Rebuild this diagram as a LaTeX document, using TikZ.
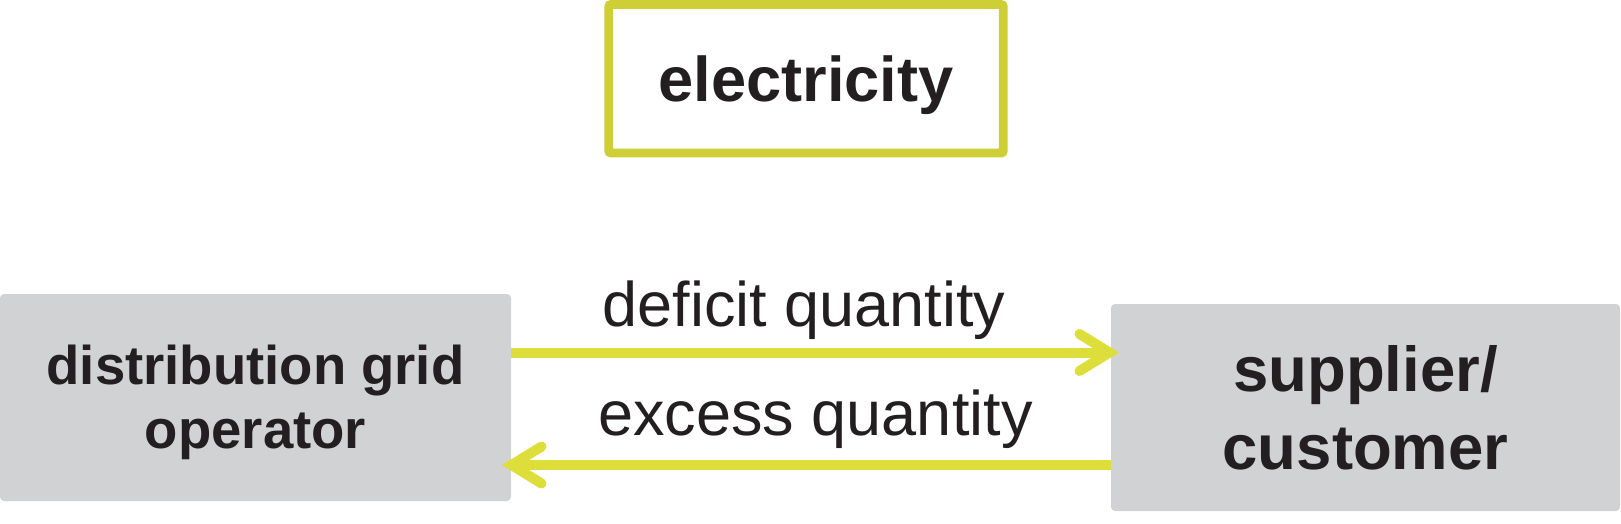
\documentclass[tikz,border=0pt]{standalone}
\usepackage{fontspec}
\setmainfont{Liberation Sans}
\usetikzlibrary{arrows.meta}
\definecolor{ink}{RGB}{35,31,32}
\definecolor{boxgray}{RGB}{209,210,212}
\definecolor{arrowyellow}{RGB}{222,222,58}
\definecolor{frameyellow}{RGB}{206,207,54}
\begin{document}
\begin{tikzpicture}[x=1pt,y=-1pt,
  graybox/.style={fill=boxgray, rounded corners=4pt, inner sep=0pt, outer sep=0pt, align=center, text=ink, minimum height=207pt},
  framebox/.style={draw=frameyellow, line width=8.7pt, rounded corners=2pt, inner sep=0pt, outer sep=0pt, minimum width=394.5pt, minimum height=148.5pt, text=ink, font=\fontsize{63.2pt}{76pt}\selectfont\bfseries, text depth=0pt},
  flow/.style={draw=arrowyellow, line width=10pt, -{Straight Barb[length=30pt,width=37pt,line cap=round,line join=miter]}},
  flowlabel/.style={text=ink, font=\fontsize{63pt}{75pt}\selectfont, anchor=base, inner sep=0pt}
]
\useasboundingbox (0,0) rectangle (1621,524);
\node[framebox] (elec) at (806,78.75) {electricity};
\node[graybox, minimum width=511pt, font=\fontsize{54.5pt}{64.3pt}\selectfont\bfseries, text depth=1pt] (dgo) at (255.5,397.5) {distribution grid\\operator};
\node[graybox, minimum width=509pt, font=\fontsize{63.5pt}{78.3pt}\selectfont\bfseries, text depth=0pt] (sc) at (1365.5,407.5) {supplier/\\customer};
\coordinate (dtop) at ([yshift=45pt]dgo.east);
\coordinate (stop) at (dtop -| sc.west);
\coordinate (sbot) at ([yshift=-57.5pt]sc.west);
\coordinate (dbot) at (sbot -| dgo.east);
\draw[flow, shorten >=-8pt] (dtop) -- (stop) node[flowlabel, midway, xshift=-7.1pt, yshift=25.8pt] {deficit quantity};
\draw[flow, shorten >=-9pt] (sbot) -- (dbot) node[flowlabel, midway, xshift=4.5pt, yshift=30pt] {excess quantity};
\end{tikzpicture}
\end{document}
